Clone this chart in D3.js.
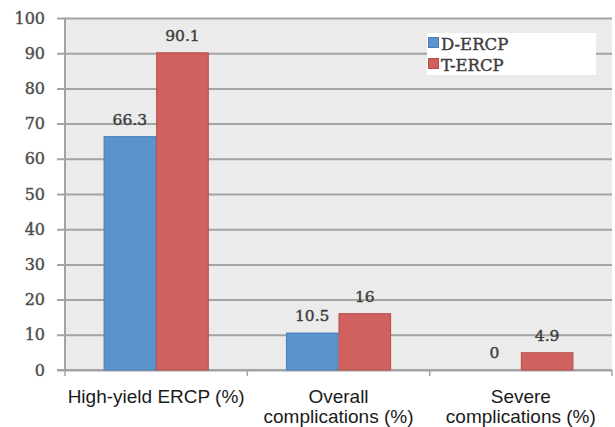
<!DOCTYPE html>
<html>
<head>
<meta charset="utf-8">
<script src="https://cdn.jsdelivr.net/npm/d3@7"></script>
<style>
  html, body { margin: 0; padding: 0; background: #fff; }
  svg { display: block; }
  .serif { font-family: "DejaVu Serif", serif; stroke-width: 0.4px; paint-order: stroke; }
</style>
</head>
<body>
<svg id="chart" width="615" height="427"></svg>
<script>
// Outcome categories (two-line labels split on "\n")
const categories = ["High-yield ERCP (%)", "Overall\ncomplications (%)", "Severe\ncomplications (%)"];
const seriesNames = ["D-ERCP", "T-ERCP"];
const dErcp = [66.3, 10.5, 0];
const tErcp = [90.1, 16, 4.9];
const yTicks = [0, 10, 20, 30, 40, 50, 60, 70, 80, 90, 100];

const colors = { "D-ERCP": "#5b93cc", "T-ERCP": "#cf625e" };
const strokes = { "D-ERCP": "#4a7db5", "T-ERCP": "#b54c48" };

const svg = d3.select("#chart");
const plotL = 65, plotR = 612, plotT = 18, plotB = 370;

const x = d3.scaleBand().domain(categories).range([plotL, plotR])
  .paddingInner(0.423).paddingOuter(0.2115);
const xSub = d3.scaleBand().domain(seriesNames).range([0, x.bandwidth()]);
const y = d3.scaleLinear().domain([0, 100]).range([plotB, plotT]);

// plot background
svg.append("rect").attr("x", plotL).attr("y", plotT)
  .attr("width", plotR - plotL).attr("height", plotB - plotT)
  .attr("fill", "#ebebeb");

// gridlines + y axis
const yAxis = d3.axisLeft(y).tickValues(yTicks).tickSize(plotR - plotL + 8).tickPadding(12);
const gy = svg.append("g").attr("transform", `translate(${plotR},0)`).call(yAxis);
gy.select(".domain").remove();
gy.selectAll(".tick line").attr("stroke", "#a3a3a3").attr("stroke-width", 2);
gy.selectAll(".tick text")
  .attr("x", -(plotR - plotL) - 20)
  .attr("class", "serif")
  .attr("font-family", null)
  .attr("font-size", 16)
  .attr("fill", "#4d4d4d")
  .attr("stroke", "#4d4d4d");

// vertical axis line
svg.append("line").attr("x1", plotL).attr("x2", plotL).attr("y1", plotT).attr("y2", plotB)
  .attr("stroke", "#a3a3a3").attr("stroke-width", 2);

// x axis with category separators
const sepX = categories.map(c => x(c) - x.step() * x.paddingOuter()).concat([plotR]);
svg.append("line").attr("x1", plotL - 8).attr("x2", plotR).attr("y1", plotB).attr("y2", plotB)
  .attr("stroke", "#a3a3a3").attr("stroke-width", 2);
svg.selectAll(".sep").data(sepX).join("line")
  .attr("x1", d => d).attr("x2", d => d)
  .attr("y1", plotB).attr("y2", plotB + 6)
  .attr("stroke", "#a3a3a3").attr("stroke-width", 1.5);

// legend box (drawn over the gridlines)
const legend = svg.append("g");
legend.append("rect").attr("x", 427).attr("y", 33).attr("width", 169).attr("height", 42)
  .attr("fill", "#fff");

// bars
const rows = categories.map((c, i) => ({ cat: c, vals: [
  { s: "D-ERCP", v: dErcp[i] }, { s: "T-ERCP", v: tErcp[i] } ] }));

const groups = svg.selectAll(".grp").data(rows).join("g")
  .attr("transform", d => `translate(${x(d.cat)},0)`);

groups.selectAll("rect").data(d => d.vals.filter(e => e.v > 0)).join("rect")
  .attr("x", d => xSub(d.s) + 0.5)
  .attr("y", d => y(d.v))
  .attr("width", xSub.bandwidth() - 1)
  .attr("height", d => y(0) - y(d.v))
  .attr("fill", d => colors[d.s])
  .attr("stroke", d => strokes[d.s])
  .attr("stroke-width", 1);

groups.selectAll("text").data(d => d.vals).join("text")
  .attr("class", "serif")
  .attr("x", d => xSub(d.s) + xSub.bandwidth() / 2)
  .attr("y", d => y(d.v) - 12)
  .attr("text-anchor", "middle")
  .attr("font-size", 15.5)
  .attr("fill", "#3d3d3d")
  .attr("stroke", "#3d3d3d")
  .text(d => d.v);

// category labels
svg.selectAll(".cat").data(categories).join("text")
  .attr("text-anchor", "middle")
  .attr("font-family", "Liberation Sans, Arial, sans-serif")
  .attr("font-size", 19)
  .attr("fill", "#1a1a1a")
  .each(function(d) {
    const lines = d.split("\n");
    const t = d3.select(this);
    lines.forEach((ln, i) => {
      t.append("tspan").attr("x", x(d) + x.bandwidth() / 2)
        .attr("y", 403 + i * 20).text(ln);
    });
  });

// legend entries
seriesNames.forEach((s, i) => {
  const yy = 37 + i * 21;
  legend.append("rect").attr("x", 428.5).attr("y", yy + 0.5).attr("width", 10).attr("height", 10)
    .attr("fill", colors[s]).attr("stroke", strokes[s]);
  legend.append("text").attr("class", "serif").attr("x", 441).attr("y", yy + 13)
    .attr("font-size", 16.5)
    .attr("fill", "#3d3d3d").attr("stroke", "#3d3d3d").text(s);
});
</script>
</body>
</html>
